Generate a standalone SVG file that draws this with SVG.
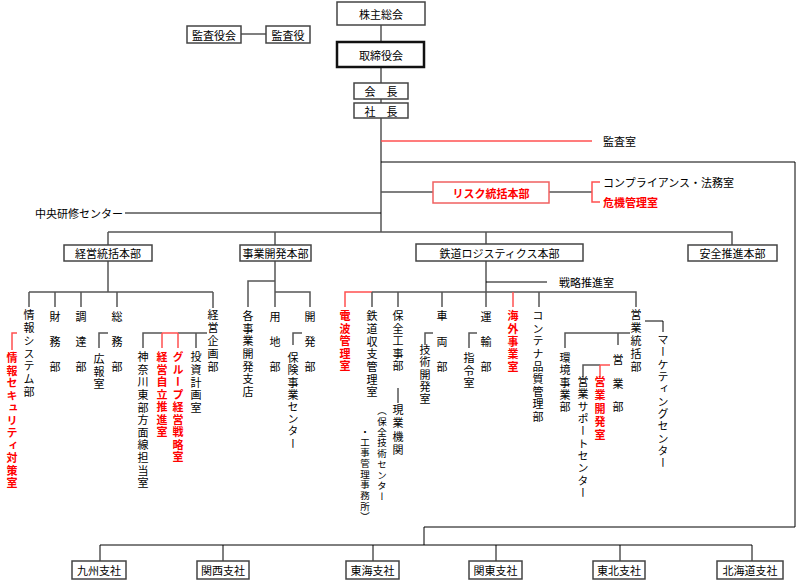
<svg xmlns="http://www.w3.org/2000/svg" width="800" height="584" viewBox="0 0 800 584">
<style>
text{font-family:"Noto Sans CJK JP","Noto Sans",sans-serif;font-size:11px;fill:#000}
.c{text-anchor:middle;dominant-baseline:central}
.m{dominant-baseline:central}
.v{writing-mode:vertical-rl;font-size:11px}
.s{font-size:9.5px}
.r{fill:#ff0000;font-weight:bold}
.box{fill:#fff;stroke:#444;stroke-width:1.5}
.thick{fill:#fff;stroke:#111;stroke-width:2.5}
.rbox{fill:#fff;stroke:#f06060;stroke-width:1.5}
.ln{fill:none;stroke:#555;stroke-width:1.5}
.k{fill:none;stroke:#000;stroke-width:1}
.rl{fill:none;stroke:#ff5050;stroke-width:1.5}
</style>
<rect width="800" height="584" fill="#fff"/>
<g id="connectors">
<path class="ln" d="M381 25V42M381 67V83M381 99V103M381 118V232M241 34H266"/>
<path class="rl" d="M381 141H592"/>
<path class="k" d="M381 162H795V527H424V545M100 545H752M100 545V561M223 545V561M373 545V561M496 545V561M620 545V561M752 545V561"/>
<path class="ln" d="M381 192H433M549 192H592"/>
<path class="rl" d="M600 182H592V202H600"/>
<path class="k" d="M125 213H381"/>
<path class="ln" d="M108 232H732V245M108 232V245M275 232V245M486 232V244"/>
<path class="ln" d="M108 261V292M29 292H213M29 292V307M55 292V307M81 292V307M117 292V307M213 292V308"/>
<path class="ln" d="M108 333H99V348"/>
<path class="rl" d="M17 333H12V350"/>
<path class="ln" d="M143 348V333H162M178 333H207M196 333V348"/>
<path class="rl" d="M162 333H178M162 333V348M178 333V348"/>
<path class="ln" d="M275 261V307M275 281H248V307M275 292H310V307M302 333H293V345"/>
<path class="k" d="M486 261V307M486 282H547"/>
<path class="rl" d="M345 307V292H372"/>
<path class="ln" d="M372 292H636V307M372 292V307M398 292V307M442 292V307M539 292V307"/>
<path class="rl" d="M513 292V307"/>
<path class="k" d="M398 388V403"/>
<path class="ln" d="M433 333H425V345M477 333H469V348"/>
<path class="k" d="M645 321H663V332"/>
<path class="ln" d="M565 348V333H630M618 333V345M583 377V365H600"/>
<path class="rl" d="M600 365H610M600 365V377"/>
</g>
<g id="kabunushi"><rect class="box" x="337" y="2" width="88" height="23"/><text class="c" x="381" y="13.5">株主総会</text></g>
<g id="torishimariyaku"><rect class="thick" x="337" y="42" width="87" height="25"/><text class="c" x="381" y="55">取締役会</text></g>
<g id="kaicho"><rect class="box" x="354" y="83" width="54" height="16"/><text class="c" x="381" y="91">会　長</text></g>
<g id="shacho"><rect class="box" x="354" y="103" width="54" height="15"/><text class="c" x="381" y="110.5">社　長</text></g>
<g id="kansayakukai"><rect class="box" x="187" y="26" width="54" height="17"/><text class="c" x="214" y="34.5">監査役会</text></g>
<g id="kansayaku"><rect class="box" x="266" y="26" width="44" height="17"/><text class="c" x="288" y="34.5">監査役</text></g>
<g id="kansashitsu"><text class="m" x="603" y="141">監査室</text></g>
<g id="risk"><rect class="rbox" x="433" y="182" width="116" height="21"/><text class="c r" x="491" y="192.5">リスク統括本部</text></g>
<g id="compliance"><text class="m" x="603" y="182">コンプライアンス・法務室</text></g>
<g id="kiki"><text class="m r" x="603" y="202">危機管理室</text></g>
<g id="chuo"><text class="m" x="123" y="213" text-anchor="end">中央研修センター</text></g>
<g id="keiei"><rect class="box" x="64" y="245" width="88" height="16"/><text class="c" x="108" y="253">経営統括本部</text></g>
<g id="jigyo"><rect class="box" x="240" y="245" width="71" height="16"/><text class="c" x="275.5" y="253">事業開発本部</text></g>
<g id="tetsudo"><rect class="box" x="416" y="244" width="167" height="17"/><text class="c" x="499.5" y="252.5">鉄道ロジスティクス本部</text></g>
<g id="anzen"><rect class="box" x="688" y="245" width="89" height="16"/><text class="c" x="732.5" y="253">安全推進本部</text></g>
<g id="senryaku"><text class="m" x="559" y="282">戦略推進室</text></g>
<g id="depts">
<text class="v" x="29" y="309.5" letter-spacing="1.8">情報システム部</text>
<text class="v" x="55" y="311.5" letter-spacing="14">財務部</text>
<text class="v" x="81" y="311.5" letter-spacing="14">調達部</text>
<text class="v" x="117" y="311.5" letter-spacing="14">総務部</text>
<text class="v" x="213" y="309.5" letter-spacing="2">経営企画部</text>
<text class="v" x="99" y="353.5" letter-spacing="1.5">広報室</text>
<text class="v r" x="12" y="352.5" letter-spacing="1.5">情報セキュリティ対策室</text>
<text class="v" x="143" y="351.5" letter-spacing="1.6">神奈川東部方面線担当室</text>
<text class="v r" x="162" y="351.5" letter-spacing="1.5">経営自立推進室</text>
<text class="v r" x="178" y="351.5" letter-spacing="1.5">グループ経営戦略室</text>
<text class="v" x="196" y="351.5" letter-spacing="1.75">投資計画室</text>
<text class="v" x="248" y="310.5" letter-spacing="1.6">各事業開発支店</text>
<text class="v" x="275" y="311.5" letter-spacing="14">用地部</text>
<text class="v" x="310" y="311.5" letter-spacing="14">開発部</text>
<text class="v" x="293" y="352.5" letter-spacing="1.2">保険事業センター</text>
<text class="v r" x="345" y="310.5" letter-spacing="1.5">電波管理室</text>
<text class="v" x="372" y="310.5" letter-spacing="1.7">鉄道収支管理室</text>
<text class="v" x="398" y="310.5" letter-spacing="1.5">保全工事部</text>
<text class="v" x="398" y="404.5" letter-spacing="2.2">現業機関</text>
<text class="v s" x="382" y="406" letter-spacing="1.2">（保全技術センター</text>
<text class="v s" x="365" y="426.5" letter-spacing="1.2">・工事管理事務所）</text>
<text class="v" x="442" y="310.5" letter-spacing="14.5">車両部</text>
<text class="v" x="425" y="344.5" letter-spacing="1.2">技術開発室</text>
<text class="v" x="486" y="311.5" letter-spacing="14">運輸部</text>
<text class="v" x="469" y="352.5" letter-spacing="1.5">指令室</text>
<text class="v r" x="513" y="310.5" letter-spacing="1.7">海外事業室</text>
<text class="v" x="538" y="310.5" letter-spacing="1.6">コンテナ品質管理部</text>
<text class="v" x="636" y="309.5" letter-spacing="2">営業統括部</text>
<text class="v" x="663" y="334.5" letter-spacing="1.3">マーケティングセンター</text>
<text class="v" x="565" y="352.5" letter-spacing="1.3">環境事業部</text>
<text class="v" x="618" y="354.5" letter-spacing="12.5">営業部</text>
<text class="v" x="583" y="376.5" letter-spacing="1.3">営業サポートセンター</text>
<text class="v r" x="600" y="376.5" letter-spacing="2.2">営業開発室</text>
</g>
<g id="kyushu"><rect class="box" x="72" y="561" width="54" height="18"/><text class="c" x="99" y="570">九州支社</text></g>
<g id="kansai"><rect class="box" x="197" y="561" width="52" height="18"/><text class="c" x="223" y="570">関西支社</text></g>
<g id="tokai"><rect class="box" x="346" y="561" width="53" height="18"/><text class="c" x="372.5" y="570">東海支社</text></g>
<g id="kanto"><rect class="box" x="469" y="561" width="53" height="18"/><text class="c" x="495.5" y="570">関東支社</text></g>
<g id="tohoku"><rect class="box" x="593" y="561" width="52" height="18"/><text class="c" x="619" y="570">東北支社</text></g>
<g id="hokkaido"><rect class="box" x="717" y="561" width="66" height="18"/><text class="c" x="750" y="570">北海道支社</text></g>
</svg>
